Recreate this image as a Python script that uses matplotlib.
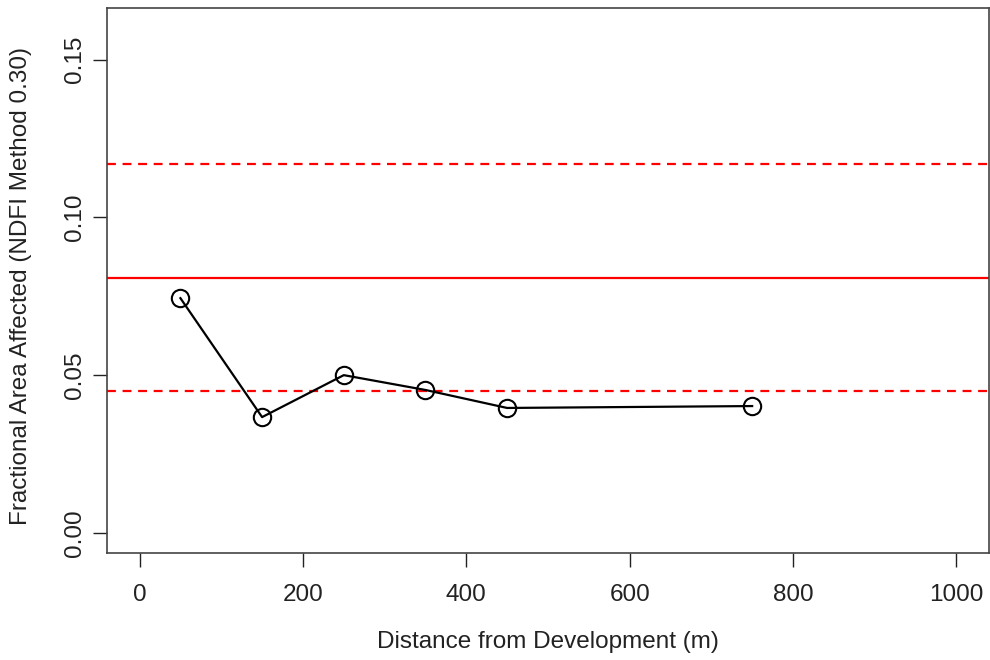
import matplotlib
matplotlib.use("Agg")
import matplotlib.pyplot as plt

plt.rcParams['font.family'] = ['Liberation Sans', 'DejaVu Sans']

distance = [50, 150, 250, 350, 450, 750]
fraction = [0.0744, 0.0367, 0.0500, 0.0453, 0.0396, 0.0402]
mean_line = 0.0807
upper_line = 0.1168
lower_line = 0.0449
xticks = [0, 200, 400, 600, 800, 1000]
yticks = [0.00, 0.05, 0.10, 0.15]
ytick_labels = ["0.00", "0.05", "0.10", "0.15"]

fig = plt.figure(figsize=(9.9, 6.6), dpi=100)
ax = fig.add_axes([0.108, 0.162, 0.891, 0.826])

ax.axhline(mean_line, color='red', lw=1.6)
ax.axhline(upper_line, color='red', lw=1.6, ls=(0, (4, 3)))
ax.axhline(lower_line, color='red', lw=1.6, ls=(0, (4, 3)))
ax.plot(distance, fraction, color='black', lw=1.6, marker='o', ms=12.5,
        mfc='none', mec='black', mew=1.5, zorder=3)

ax.set_xlim(-40, 1040)
ax.set_ylim(-0.0064, 0.1664)
ax.set_xticks(xticks)
ax.set_xticklabels([str(t) for t in xticks])
ax.set_yticks(yticks)
ax.set_yticklabels(ytick_labels, rotation=90, va='center')
ax.tick_params(direction='out', length=10, width=1, labelsize=17.5, colors='#222222')
ax.tick_params(axis='x', pad=12)
ax.tick_params(axis='y', pad=5)
for s in ax.spines.values():
    s.set_linewidth(1.2)
    s.set_color('#444444')

ax.set_xlabel("Distance from Development (m)", fontsize=17.5, color='#222222', va='center')
ax.xaxis.set_label_coords(0.5, -0.163)
ax.set_ylabel("Fractional Area Affected (NDFI Method 0.30)", fontsize=17.5, color='#222222', va='center')
ax.yaxis.set_label_coords(-0.0975, 0.49)

fig.savefig("out.png", dpi=100)
